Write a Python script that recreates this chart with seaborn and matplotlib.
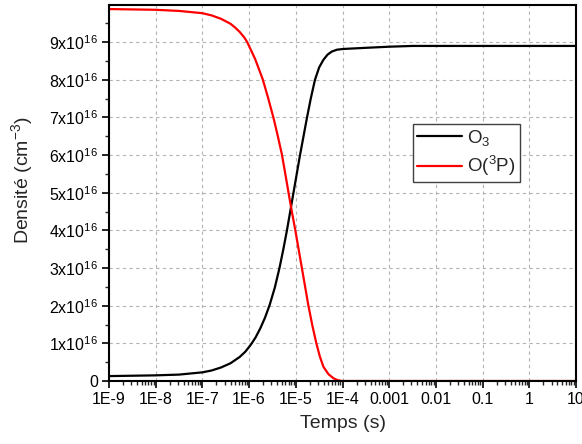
import numpy as np
import pandas as pd
import seaborn as sns
import matplotlib.pyplot as plt
from matplotlib.ticker import FixedLocator, LogLocator, MultipleLocator, NullFormatter

# log10(time in s) and density in units of 1e16 cm^-3
log_t_o3 = [-9.0, -8.5, -8.0, -7.5, -7.0, -6.8, -6.6, -6.4, -6.2, -6.08, -5.96,
            -5.86, -5.76, -5.66, -5.56, -5.45, -5.35, -5.27, -5.19, -5.12, -5.05,
            -4.98, -4.91, -4.835, -4.76, -4.68, -4.59, -4.5, -4.41, -4.32, -4.23,
            -4.12, -3.98, -3.5, -3.0, -2.5, -2.0, -1.0, 0.0, 1.0]
o3 = [0.13, 0.14, 0.15, 0.17, 0.23, 0.28, 0.36, 0.47, 0.64, 0.78, 0.97,
      1.16, 1.4, 1.68, 2.02, 2.48, 3.0, 3.48, 4.0, 4.5, 5.0,
      5.5, 6.0, 6.5, 7.0, 7.5, 8.0, 8.33, 8.53, 8.67, 8.75,
      8.8, 8.82, 8.85, 8.88, 8.9, 8.9, 8.9, 8.9, 8.9]

log_t_o3p = [-9.0, -8.5, -8.0, -7.5, -7.0, -6.8, -6.6, -6.4, -6.3, -6.2, -6.1,
             -6.04, -5.87, -5.71, -5.6, -5.48, -5.39, -5.3, -5.23, -5.16, -5.085,
             -5.01, -4.94, -4.87, -4.8, -4.73, -4.645, -4.56, -4.485, -4.41, -4.3,
             -4.19, -4.1, -4.0, -3.0, -2.0, -1.0, 0.0, 1.0]
o3p = [9.88, 9.87, 9.86, 9.83, 9.77, 9.71, 9.62, 9.49, 9.39, 9.27, 9.12,
       9.0, 8.55, 8.02, 7.55, 7.0, 6.53, 6.03, 5.54, 5.03, 4.5,
       4.0, 3.5, 3.0, 2.5, 2.0, 1.47, 1.0, 0.65, 0.38, 0.18,
       0.07, 0.02, 0.0, 0.0, 0.0, 0.0, 0.0, 0.0]

labels = ["O$_3$", "O($^3$P)"]
tick_decades = [-9, -8, -7, -6, -5, -4, -3, -2, -1, 0, 1]
tick_labels = ["1E-9", "1E-8", "1E-7", "1E-6", "1E-5", "1E-4",
               "0.001", "0.01", "0.1", "1", "10"]

df = pd.concat([
    pd.DataFrame({"t": np.power(10.0, log_t_o3), "n": np.array(o3) * 1e16, "esp": labels[0]}),
    pd.DataFrame({"t": np.power(10.0, log_t_o3p), "n": np.array(o3p) * 1e16, "esp": labels[1]}),
])

sns.set_theme(style="ticks")
plt.rcParams["font.family"] = ["Liberation Sans", "DejaVu Sans"]
plt.rcParams["mathtext.fontset"] = "custom"
plt.rcParams["mathtext.rm"] = "Liberation Sans"
plt.rcParams["mathtext.it"] = "Liberation Sans:italic"

fig = plt.figure(figsize=(5.82, 4.44), dpi=100)
ax = fig.add_axes([0.1873, 0.1419, 0.8024, 0.8462])

sns.lineplot(data=df, x="t", y="n", hue="esp", palette=["black", "#ff0000"],
             linewidth=1.6, ax=ax, sort=False)

ax.set_xscale("log")
ax.set_xlim(1e-9, 10)
ax.set_ylim(0, 9.98e16)

ax.xaxis.set_major_locator(FixedLocator([10.0 ** d for d in tick_decades]))
ax.set_xticklabels(tick_labels)
ax.xaxis.set_minor_locator(LogLocator(base=10, subs=np.arange(2, 10), numticks=20))
ax.xaxis.set_minor_formatter(NullFormatter())

yt = np.arange(0, 10) * 1e16
ax.set_yticks(yt)
ax.set_yticklabels(["0"] + ["%dx10$^{16}$" % k for k in range(1, 10)])
ax.yaxis.set_minor_locator(MultipleLocator(0.5e16))

ax.tick_params(axis="both", which="major", direction="out", length=5, width=1.2,
               labelsize=11.5, colors="black", pad=3)
ax.tick_params(axis="both", which="minor", direction="out", length=3, width=1.0)

for s in ax.spines.values():
    s.set_color("black")
    s.set_linewidth(1.5)

ax.grid(True, which="major", color="#b4b4b4", linestyle=(0, (3, 3)), linewidth=0.8)

ax.set_xlabel("Temps (s)", fontsize=14, labelpad=6)
ax.set_ylabel("Densité (cm$^{-3}$)", fontsize=14)
ax.yaxis.set_label_coords(-0.158, 0.535)

leg = ax.legend(loc="upper left", bbox_to_anchor=(0.651, 0.684), borderaxespad=0,
                fontsize=13.5, frameon=True, fancybox=False, handlelength=2.4,
                handletextpad=0.3, borderpad=0.2, labelspacing=0.35)
leg.get_frame().set_edgecolor("#404040")
leg.get_frame().set_linewidth(1.0)
leg.get_frame().set_alpha(1)

fig.savefig("out.png", dpi=100)
